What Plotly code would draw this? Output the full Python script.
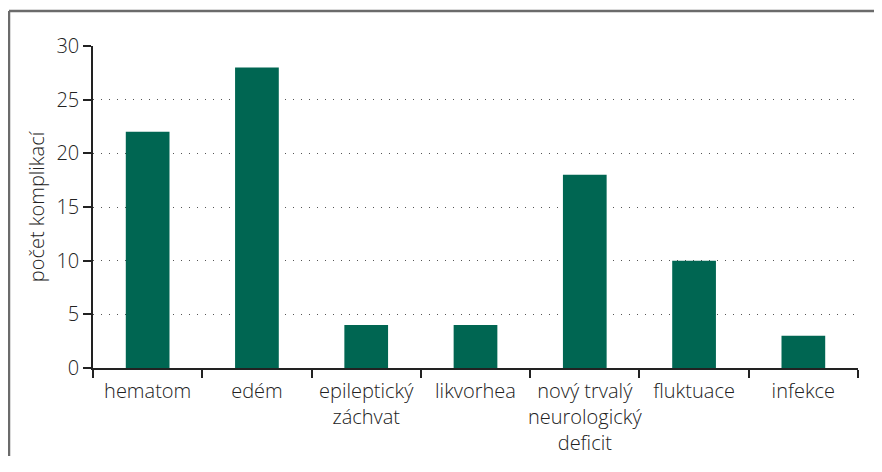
import plotly.graph_objects as go

categories = ["hematom", "edém", "epileptický<br>záchvat", "likvorhea",
              "nový trvalý<br>neurologický<br>deficit", "fluktuace", "infekce"]
values = [22, 28, 4, 4, 18, 10, 3]
y_ticks = [0, 5, 10, 15, 20, 25, 30]
y_title = "počet komplikací"

OFF = 8  # page body margin
W, H = 882 - OFF, 448
L, T = 93 - OFF, 46 - OFF
pw, ph = 765, 322
R, B = W - L - pw, H - T - ph

fig = go.Figure(go.Bar(x=categories, y=values, marker_color="#006652",
                       marker_line_width=0, width=0.4))

font = dict(family="Open Sans", size=20, color="#222222", weight=300)
bx0 = (9 - OFF - L) / pw
bx1 = (W + 20 - L) / pw
by1 = 1 + (T - (11 - OFF)) / ph
by0 = -(H + 20 - (H - B)) / ph
border = dict(color="#6b6b6b", width=2.5)
fig.update_layout(
    width=W, height=H, margin=dict(l=L, r=R, t=T, b=B, autoexpand=False),
    paper_bgcolor="white", plot_bgcolor="white", showlegend=False,
    font=font,
    xaxis=dict(showgrid=False, showline=True, linecolor="#222222", linewidth=1.5,
               ticks="outside", tickson="boundaries", ticklen=8, tickcolor="#222222",
               tickwidth=1.5, tickfont=font, tickangle=0, automargin=False,
               ticklabelstandoff=4),
    yaxis=dict(range=[0, 30], tickvals=y_ticks, showline=True, linecolor="#222222",
               linewidth=1.5, ticks="outside", ticklen=8, tickcolor="#222222",
               tickwidth=1.5, showgrid=True, gridcolor="#555555", gridwidth=1,
               griddash="1px,7px", zeroline=False, tickfont=font, automargin=False,
               title=dict(text=y_title, font=font, standoff=6)),
    shapes=[
        dict(type="line", xref="paper", yref="paper", x0=bx0, x1=bx1, y0=by1, y1=by1,
             line=border, layer="below"),
        dict(type="line", xref="paper", yref="paper", x0=bx0, x1=bx0, y0=by0, y1=by1,
             line=border, layer="below"),
    ],
)
fig.write_html("out.html")
